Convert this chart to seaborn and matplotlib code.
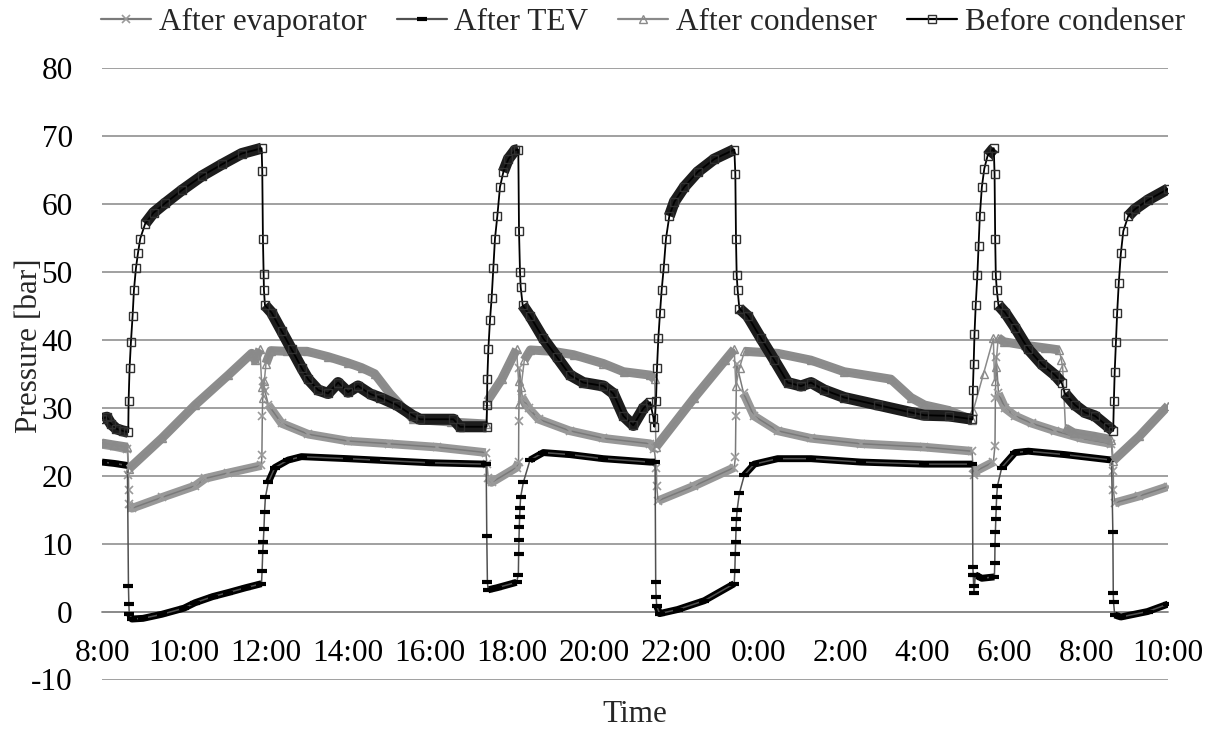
import numpy as np
import pandas as pd
import matplotlib
matplotlib.use("Agg")
import matplotlib.pyplot as plt
import seaborn as sns
from matplotlib.lines import Line2D

# ---------------- data (time in hours after 08:00 of day 1, pressure in bar) -------------
tick_hours = list(range(0, 27, 2))
tick_labels = ["8:00", "10:00", "12:00", "14:00", "16:00", "18:00", "20:00", "22:00",
               "0:00", "2:00", "4:00", "6:00", "8:00", "10:00"]
y_ticks = list(range(-10, 81, 10))
series_names = ["After evaporator", "After TEV", "After condenser", "Before condenser"]

evap_t = [0.0, 0.3, 0.62, 0.645, 0.65, 0.658, 0.73, 1.46, 2.27, 2.52, 3.08, 3.89,
          3.90, 3.91, 3.93, 3.97, 4.06, 4.38, 5.03, 6.0, 7.0, 8.16, 9.36,
          9.39, 9.42, 9.50, 10.11,
          10.16, 10.165, 10.18, 10.25, 10.41, 10.65, 11.41, 12.23, 13.37, 13.47,
          13.52, 13.53, 13.56, 14.45, 15.42,
          15.45, 15.46, 15.48, 15.65, 15.9, 16.48, 17.29, 18.51, 20.06, 21.22,
          21.245, 21.26, 21.32, 21.74,
          21.78, 21.79, 21.81, 21.865, 22.03, 22.27, 22.68, 23.24, 23.89, 24.62,
          24.665, 24.67, 24.70, 25.3, 26.0]
evap_p = [24.6, 24.3, 23.9, 20.1, 17.9, 15.8, 15.2, 16.8, 18.5, 19.6, 20.4, 21.5,
          23.1, 28.8, 34.0, 32.5, 30.4, 27.7, 26.1, 25.1, 24.7, 24.2, 23.4,
          21.7, 19.6, 19.0, 21.2,
          22.0, 28.0, 35.9, 31.5, 29.9, 28.3, 26.6, 25.5, 24.7, 23.9,
          21.2, 18.5, 16.3, 18.5, 21.2,
          22.8, 28.8, 36.4, 32.1, 28.8, 26.6, 25.5, 24.7, 24.2, 23.6,
          21.2, 20.1, 20.7, 22.0,
          24.4, 31.5, 37.5, 32.1, 29.9, 28.8, 27.7, 26.6, 25.5, 24.7,
          20.7, 17.9, 16.0, 17.0, 18.4]

tev_t = [0.0, 0.3, 0.62,
         0.645, 0.655, 0.665, 0.73, 1.0, 1.46, 2.0, 2.27, 2.7, 3.08, 3.5, 3.89,
         3.905, 3.92, 3.935, 3.95, 3.965, 3.985, 4.055, 4.217, 4.542, 4.866, 6.0, 6.65, 8.0, 9.37,
         9.385, 9.40, 9.42, 9.63, 10.11,
         10.155, 10.162, 10.17, 10.178, 10.186, 10.195, 10.21, 10.276, 10.439, 10.764, 11.415,
         12.228, 13.366, 13.49,
         13.505, 13.515, 13.53, 13.6, 14.04, 14.69, 15.42,
         15.435, 15.445, 15.455, 15.465, 15.475, 15.49, 15.545, 15.667, 15.91, 16.48, 17.293,
         18.512, 20.057, 21.23,
         21.24, 21.25, 21.26, 21.27, 21.3, 21.46, 21.765,
         21.775, 21.78, 21.79, 21.80, 21.81, 21.82, 21.84, 21.946, 22.27, 22.595, 23.487, 24.623,
         24.655, 24.665, 24.672, 24.70, 24.85, 25.5, 26.0]
tev_p = [22.0, 21.8, 21.5,
         3.8, 1.1, -0.3, -1.1, -1.0, -0.4, 0.5, 1.3, 2.2, 2.8, 3.5, 4.1,
         6.0, 8.7, 10.3, 12.2, 14.7, 16.8, 19.0, 21.2, 22.3, 22.8, 22.5, 22.3, 21.9, 21.7,
         11.1, 4.3, 3.2, 3.5, 4.3,
         5.4, 8.4, 10.6, 12.5, 13.9, 15.2, 16.8, 19.0, 22.3, 23.4, 23.1,
         22.5, 22.0, 22.0,
         4.3, 2.2, 0.8, -0.3, 0.3, 1.6, 4.1,
         6.0, 8.4, 10.3, 12.2, 13.6, 14.9, 17.4, 20.1, 21.7, 22.5, 22.5,
         22.0, 21.7, 21.7,
         6.5, 5.4, 3.8, 2.7, 5.4, 4.9, 5.1,
         7.1, 9.8, 11.7, 13.6, 15.2, 16.8, 18.5, 21.2, 23.4, 23.6, 23.1, 22.3,
         11.7, 2.7, 1.4, -0.5, -0.8, 0.0, 1.1]

cond_t = [0.0, 0.3, 0.62,
          0.655, 1.46, 2.27, 3.08, 3.65, 3.73, 3.85,
          3.90, 3.93, 3.96, 4.0, 4.12, 4.5, 5.0, 5.52, 6.0, 6.33, 6.65, 7.02, 7.59, 8.5, 9.37,
          9.40, 9.75, 10.11,
          10.16, 10.18, 10.22, 10.3, 10.45, 11.0, 11.5, 12.23, 12.72, 13.37, 13.48,
          13.51, 14.45, 15.2, 15.42,
          15.46, 15.55, 15.67, 16.48, 17.29, 18.1, 19.24, 19.73, 20.06, 20.65, 21.22,
          21.245, 21.5, 21.74,
          21.77, 21.8, 21.86, 22.0, 22.5, 23.0, 23.35,
          23.40, 23.43, 23.5, 23.7, 24.2, 24.62,
          24.665, 25.3, 26.0]
cond_p = [24.8, 24.5, 24.2,
          21.0, 25.5, 30.4, 34.8, 38.0, 37.0, 38.6,
          33.0, 31.5, 34.0, 36.5, 38.4, 38.3, 38.3, 37.5, 36.6, 35.9, 35.0, 32.1, 28.3, 27.9, 27.6,
          31.0, 34.2, 38.6,
          34.0, 30.5, 33.0, 37.0, 38.5, 38.3, 37.8, 36.5, 35.3, 34.8, 34.2,
          24.2, 31.5, 37.0, 38.6,
          33.2, 35.9, 38.3, 38.0, 37.0, 35.3, 34.2, 31.5, 30.4, 29.6, 28.2,
          29.5, 35.0, 40.2,
          34.0, 36.0, 40.3, 39.7, 39.2, 38.8, 38.5,
          37.0, 36.0, 27.0, 26.3, 25.8, 25.3,
          22.2, 25.8, 30.3]

before_t = [0.00, 0.12, 0.22, 0.35, 0.50, 0.64,
            0.649, 0.673, 0.706, 0.746, 0.779, 0.827, 0.876, 0.933, 1.054, 1.257, 1.541, 1.946,
            2.433, 2.920, 3.406, 3.893,
            3.909, 3.925, 3.942, 3.950, 3.974, 4.136, 4.380, 4.623, 4.866, 5.028, 5.272, 5.515,
            5.758, 6.002, 6.245, 6.55, 6.78, 7.19, 7.59, 7.76, 8.57, 8.73, 9.38,
            9.39, 9.398, 9.423, 9.463, 9.504, 9.545, 9.585, 9.642, 9.707, 9.789, 9.911, 10.073, 10.154,
            10.171, 10.195, 10.211, 10.26, 10.439, 10.764, 11.089, 11.415, 11.74, 12.228, 12.472,
            12.715, 12.959, 13.203, 13.37, 13.45, 13.472,
            13.512, 13.537, 13.569, 13.61, 13.65, 13.699, 13.756, 13.837, 13.959, 14.203, 14.528,
            14.935, 15.423,
            15.447, 15.463, 15.48, 15.504, 15.545, 15.748, 16.073, 16.398, 16.724, 17.049, 17.293,
            17.618, 18.106, 18.919, 19.732, 20.057, 20.65, 21.23,
            21.24, 21.26, 21.28, 21.31, 21.35, 21.38, 21.41, 21.46, 21.52, 21.60, 21.75,
            21.77, 21.785, 21.80, 21.825, 21.865, 22.028, 22.27, 22.595, 22.92, 23.244, 23.406,
            23.487, 23.731, 23.974, 24.217, 24.542, 24.663,
            24.68, 24.70, 24.73, 24.76, 24.80, 24.85, 24.91, 25.03, 25.19, 25.52, 26.0]
before_p = [28.4, 28.6, 27.6, 26.9, 26.6, 26.4,
            31.0, 35.9, 39.7, 43.5, 47.3, 50.5, 52.7, 54.9, 57.1, 58.7, 60.1, 62.0,
            64.1, 65.8, 67.4, 68.2,
            64.8, 54.9, 49.7, 47.3, 45.1, 44.0, 41.3, 38.6, 35.9, 34.2, 32.6, 32.1,
            33.7, 32.3, 33.2, 32.0, 31.5, 30.4, 28.8, 28.3, 28.3, 27.2, 27.2,
            30.4, 34.2, 38.6, 42.9, 46.2, 50.5, 54.9, 58.2, 62.5, 64.7, 66.6, 67.9, 68.0,
            56.0, 50.0, 47.8, 45.1, 43.5, 40.2, 37.5, 34.8, 33.7, 33.2, 32.1,
            28.8, 27.4, 29.9, 30.8, 28.5, 27.2,
            31.0, 35.9, 40.2, 44.0, 47.3, 50.5, 54.9, 58.2, 60.3, 62.5, 64.7,
            66.6, 68.0,
            64.4, 54.9, 49.5, 47.3, 44.6, 43.5, 40.2, 37.0, 33.7, 33.2, 33.7,
            32.6, 31.5, 30.4, 29.3, 28.9, 28.8, 28.3,
            32.6, 36.4, 40.8, 45.1, 49.5, 53.8, 58.2, 62.5, 65.2, 67.1, 68.2,
            64.4, 54.9, 49.5, 47.3, 45.1, 44.0, 41.8, 38.6, 36.4, 34.8, 33.7,
            32.1, 30.4, 29.3, 28.8, 27.2, 26.6,
            31.0, 35.3, 39.7, 44.0, 48.4, 52.7, 56.0, 58.2, 59.2, 60.6, 62.2]

# ---------------- styling ----------------
sns.set_theme(style="white")
plt.rcParams["font.family"] = ["Liberation Serif", "DejaVu Serif"]
FS = 22.5
GRID = "#868686"

W, H = 1207, 736
fig = plt.figure(figsize=(W / 100, H / 100), dpi=100)
ax = fig.add_axes([102 / W, 1 - 679.5 / H, (1168 - 102) / W, (679.5 - 68) / H])

PX_H = (1168 - 102) / 26.0
PX_B = (679.5 - 68) / 90.0


def band(t, p, max_slope=3.0):
    """Split a series where it is steep, so the dense-marker band is drawn only on slow parts."""
    xs, ys = [t[0]], [p[0]]
    for i in range(1, len(t)):
        dx = (t[i] - t[i - 1]) * PX_H
        dy = abs(p[i] - p[i - 1]) * PX_B
        if dy > max_slope * dx:
            xs.append(np.nan)
            ys.append(np.nan)
        xs.append(t[i])
        ys.append(p[i])
    return xs, ys


styles = [
    # name, t, p, band colour, band width, line colour, line width, marker kwargs
    (series_names[0], evap_t, evap_p, "#989898", 6.2, "#7a7a7a", 1.1,
     dict(marker="x", markersize=6, markeredgecolor="#9a9a9a", markeredgewidth=1.2)),
    (series_names[1], tev_t, tev_p, "#000000", 5.0, "#505050", 1.1,
     dict(marker="_", markersize=7, markeredgecolor="#000000", markeredgewidth=3.0)),
    (series_names[2], cond_t, cond_p, "#8c8c8c", 6.5, "#8a8a8a", 1.1,
     dict(marker="^", markersize=6, markerfacecolor="none", markeredgecolor="#8a8a8a",
          markeredgewidth=1.0)),
    (series_names[3], before_t, before_p, "#1c1c1c", 8.0, "#000000", 1.3,
     dict(marker="s", markersize=6, markerfacecolor="none", markeredgecolor="#303030",
          markeredgewidth=1.0)),
]

handles = []
z = 3.0
for name, t, p, bcol, bw, lcol, lw, mk in styles:
    bx, by = band(t, p)
    ax.plot(bx, by, color=bcol, lw=bw, solid_capstyle="butt", solid_joinstyle="round",
            zorder=z)
    df = pd.DataFrame({"time": t, "pressure": p})
    sns.lineplot(data=df, x="time", y="pressure", ax=ax, estimator=None, sort=False,
                 color=lcol, lw=lw, legend=False, zorder=z + 0.1, **mk)
    handles.append(Line2D([0], [0], color=lcol, lw=1.6, **mk))
    z += 0.2

# axes appearance
ax.set_xlim(0, 26)
ax.set_ylim(-10, 80)
ax.set_yticks(y_ticks)
ax.set_yticklabels([str(v) for v in y_ticks])
ax.set_xticks(tick_hours)
ax.set_xticklabels(tick_labels)
ax.yaxis.grid(True, color=GRID, lw=1.1)
ax.xaxis.grid(False)
for s in ["top", "right", "left"]:
    ax.spines[s].set_visible(False)
ax.spines["bottom"].set_position(("data", 0))
ax.spines["bottom"].set_color(GRID)
ax.spines["bottom"].set_linewidth(1.1)
ax.spines["bottom"].set_zorder(2)
ax.tick_params(axis="x", direction="inout", length=13, width=1.1, color=GRID,
               labelsize=FS, pad=13, labelcolor="black")
ax.tick_params(axis="y", length=0, labelsize=FS, pad=21, labelcolor="black")
ax.set_xlabel("")
ax.set_ylabel("")
ax.set_facecolor("white")

fig.text(30 / W, 1 - 346 / H, "Pressure [bar]", rotation=90, ha="center", va="center",
         fontsize=FS)
fig.text(635 / W, 1 - 715 / H, "Time", ha="center", va="center", fontsize=FS)

fig.legend(handles, series_names, loc="center", bbox_to_anchor=(643 / W, 1 - 22 / H),
           ncol=4, frameon=False, fontsize=FS, handlelength=1.6, handletextpad=0.25,
           columnspacing=0.95, borderaxespad=0, numpoints=1)

fig.savefig("out.png", dpi=100, facecolor="white")
